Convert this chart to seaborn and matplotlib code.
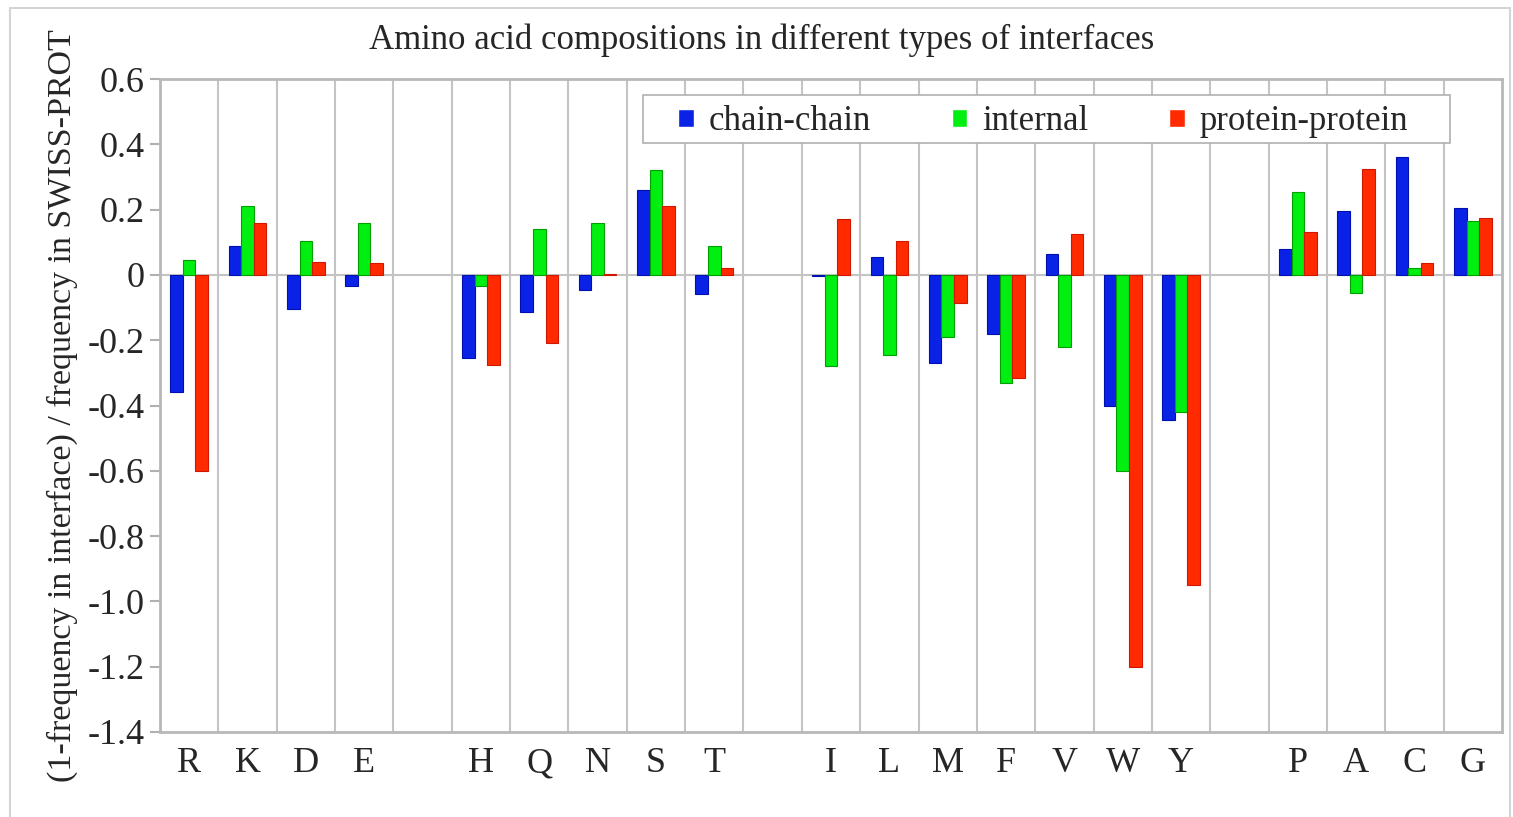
import numpy as np
import pandas as pd
import matplotlib
matplotlib.use("Agg")
import matplotlib.pyplot as plt
from matplotlib.patches import Rectangle
import seaborn as sns

# Residues grouped by type; blank slots separate the groups on the axis
residues = ["R", "K", "D", "E", " ",
            "H", "Q", "N", "S", "T", "  ",
            "I", "L", "M", "F", "V", "W", "Y", "   ",
            "P", "A", "C", "G"]
plotted = ["R", "K", "D", "E", "H", "Q", "N", "S", "T",
           "I", "L", "M", "F", "V", "W", "Y", "P", "A", "C", "G"]

chain_chain = [-0.36, 0.09, -0.105, -0.035, -0.255, -0.115, -0.045, 0.26, -0.06,
               -0.004, 0.055, -0.27, -0.18, 0.065, -0.40, -0.445,
               0.08, 0.195, 0.36, 0.205]
internal = [0.045, 0.21, 0.105, 0.16, -0.035, 0.14, 0.16, 0.32, 0.09,
            -0.28, -0.245, -0.19, -0.33, -0.22, -0.60, -0.42,
            0.255, -0.055, 0.02, 0.165]
protein_protein = [-0.60, 0.16, 0.04, 0.035, -0.275, -0.21, 0.003, 0.21, 0.02,
                   0.17, 0.105, -0.085, -0.315, 0.125, -1.20, -0.95,
                   0.13, 0.325, 0.035, 0.175]

series_names = ["chain-chain", "internal", "protein-protein"]
series_colors = ["#0A22E6", "#00EE10", "#FF2A00"]
edge_colors = ["#0010B0", "#00A000", "#D01800"]

y_ticks = [0.6, 0.4, 0.2, 0.0, -0.2, -0.4, -0.6, -0.8, -1.0, -1.2, -1.4]
y_tick_labels = ["0.6", "0.4", "0.2", "0", "-0.2", "-0.4", "-0.6", "-0.8",
                 "-1.0", "-1.2", "-1.4"]

title = "Amino acid compositions in different types of interfaces"
y_label = "(1-frequency in interface) / frequency in SWISS-PROT"

df = pd.DataFrame({
    "residue": plotted * 3,
    "value": chain_chain + internal + protein_protein,
    "type": sum([[n] * len(plotted) for n in series_names], []),
})

sns.set_theme(style="white")
plt.rcParams["font.family"] = ["Liberation Serif", "DejaVu Serif"]

W, H = 1513, 817
AX_L, AX_R, AX_T, AX_B = 160, 1502, 79, 732
fig = plt.figure(figsize=(W / 100, H / 100), dpi=100)
ax = fig.add_axes([AX_L / W, 1 - AX_B / H, (AX_R - AX_L) / W, (AX_B - AX_T) / H])


def ax_x(px):
    return (px - AX_L) / (AX_R - AX_L)


def ax_y(px):
    return (AX_B - px) / (AX_B - AX_T)


ax.axhline(0, color="#c4c4c4", lw=1.5, zorder=0.5)

sns.barplot(data=df, x="residue", y="value", hue="type", order=residues,
            hue_order=series_names, palette=series_colors, width=0.645,
            dodge=True, errorbar=None, saturation=1, ax=ax, zorder=2)

for cont, ec in zip(ax.containers, edge_colors):
    for bar in cont:
        bar.set_edgecolor(ec)
        bar.set_linewidth(0.8)

ax.set_xlim(-0.5, len(residues) - 0.5)
ax.set_ylim(-1.4, 0.6)
ax.set_yticks(y_ticks)
ax.set_yticklabels(y_tick_labels, fontsize=26)
ax.set_xticks(range(len(residues)))
ax.set_xticklabels(residues, fontsize=26)
ax.tick_params(axis="x", length=0, pad=11)
ax.tick_params(axis="y", length=7, width=1.5, color="#b0b0b0", pad=4,
               left=True)

# vertical separators between residue slots
ax.set_xticks(np.arange(0.5, len(residues) - 1, 1), minor=True)
ax.grid(which="minor", axis="x", color="#c4c4c4", lw=1.5)
ax.grid(which="major", visible=False)
ax.tick_params(which="minor", length=0)

for sp in ax.spines.values():
    sp.set_visible(True)
    sp.set_color("#b8b8b8")
    sp.set_linewidth(2)

ax.set_xlabel("")
ax.set_ylabel(y_label, fontsize=24.5)
ax.yaxis.set_label_coords((78 - AX_L) / (AX_R - AX_L), 0.5)

# legend box, drawn separately so its padding can be set on each side
ax.add_patch(Rectangle((ax_x(643), ax_y(143)), ax_x(1450) - ax_x(643),
                       ax_y(95) - ax_y(143), transform=ax.transAxes,
                       facecolor="white", edgecolor="#b0b0b0", lw=1.2,
                       zorder=9, clip_on=False))

leg = ax.legend(loc="center left", bbox_to_anchor=(ax_x(678), ax_y(122)),
                borderaxespad=0, borderpad=0, ncol=3, fontsize=25,
                frameon=False, handlelength=0.45, handleheight=0.45,
                handletextpad=0.43, columnspacing=2.33)
leg.set_zorder(10)
leg.set_title(None)

fig.text(762 / W, 1 - 40 / H, title, ha="center", va="center", fontsize=25)

# window frame around the figure
fig.patches.append(Rectangle((10 / W, -0.02), 1500 / W, 1.02 - 8 / H,
                             transform=fig.transFigure, fill=False,
                             edgecolor="#d4d4d4", lw=1.5))

fig.savefig("out.png", dpi=100)
